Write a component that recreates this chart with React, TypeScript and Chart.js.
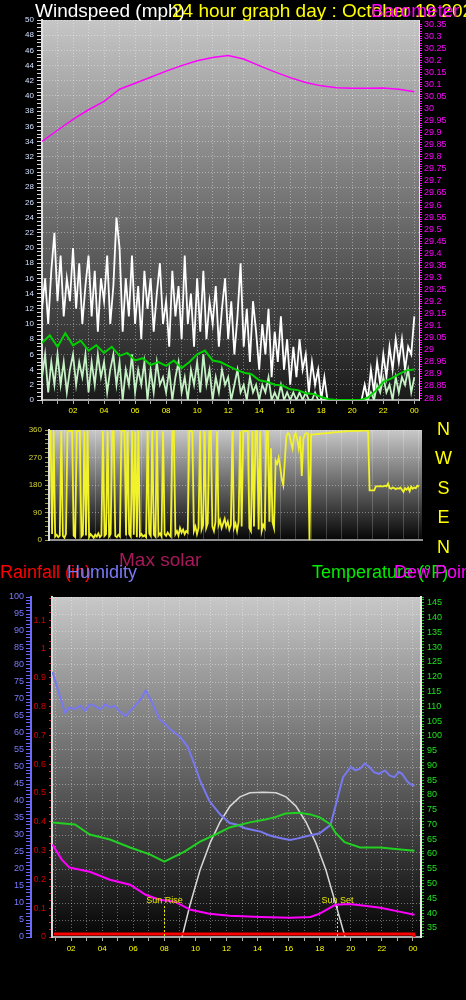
import React, { useEffect, useRef } from "react";
import { Chart, registerables } from "chart.js";
Chart.register(...registerables);

const FONT = "'Liberation Sans', Arial, sans-serif";

// ---------- top chart: wind (mph) and barometer (inHg) ----------
const WIND_STEP = 0.2; // hours between wind samples
const gustValues = [
  12, 16, 10, 17, 22,
  13, 19, 11, 16, 13,
  20, 12, 18, 10, 15,
  19, 11, 17, 9, 16,
  13, 19, 10, 15, 24,
  20, 9, 16, 11, 19,
  10, 15, 8, 17, 12,
  16, 9, 14, 18, 10,
  13, 7, 17, 11, 15,
  8, 19, 10, 14, 7,
  16, 9, 17, 8, 13,
  10, 15, 7, 12, 16,
  8, 13, 6, 11, 18,
  7, 12, 5, 13, 9,
  4, 10, 6, 12, 3,
  9, 5, 11, 4, 8,
  2, 7, 3, 8, 4,
  6, 1, 5, 2, 4,
  0, 3, 0, 0, 0,
  0, 0, 0, 0, 0,
  0, 0, 0, 0, 2,
  0, 4, 1, 5, 2,
  6, 3, 7, 4, 8,
  5, 8, 4, 7, 6,
  11,
];
const speedValues = [
  3, 6, 1, 5, 2,
  6, 2, 5, 1, 4,
  6, 2, 5, 3, 6,
  1, 5, 2, 6, 3,
  5, 1, 4, 6, 2,
  5, 0, 4, 2, 6,
  1, 4, 2, 5, 0,
  4, 1, 5, 2, 3,
  1, 4, 0, 3, 5,
  1, 3, 0, 4, 2,
  5, 1, 6, 2, 4,
  0, 3, 1, 4, 2,
  3, 0, 2, 4, 1,
  2, 0, 3, 1, 2,
  0, 2, 1, 3, 0,
  1, 0, 2, 0, 1,
  0, 1, 0, 1, 0,
  1, 0, 0, 1, 0,
  0, 0, 0, 0, 0,
  0, 0, 0, 0, 0,
  0, 0, 0, 0, 0,
  0, 1, 0, 2, 1,
  3, 1, 2, 0, 3,
  1, 3, 2, 4, 1,
  3,
];
const AVG_STEP = 0.5;
const avgValues = [
  7.5, 8.5, 7, 8.8, 7.2, 7.8, 6.5, 7.2, 6.2, 7, 5.8, 6.2, 5.2, 5.5, 4.6, 5,
  4.5, 5.2, 4.2, 5, 6, 6.5, 5.2, 5, 4.5, 4, 3.6, 3.4, 2.6, 2.4, 2, 1.9, 1.4,
  1.3, 0.9, 0.8, 0.4, 0.1, 0, 0, 0, 0, 0.3, 1.2, 2.4, 2.8, 3.4, 3.9, 4,
];
const BARO_STEP = 1;
const baroValues = [
  29.864, 29.91, 29.955, 29.995, 30.03, 30.08, 30.105, 30.13, 30.155, 30.178,
  30.198, 30.212, 30.22, 30.205, 30.178, 30.152, 30.128, 30.108, 30.094,
  30.086, 30.084, 30.084, 30.085, 30.08, 30.07,
];

// ---------- wind direction chart ----------
const DIR_STEP = 0.1;
const dirValues = [
  355, 358, 20, 356, 12, 18, 10, 15, 357, 14,
  8, 20, 355, 358, 357, 359, 15, 10, 356, 358,
  357, 12, 18, 356, 15, 358, 10, 20, 14, 8,
  18, 12, 22, 10, 16, 357, 14, 20, 356, 12,
  20, 356, 355, 14, 10, 18, 12, 358, 359, 357,
  15, 356, 20, 12, 357, 18, 355, 10, 358, 14,
  20, 12, 16, 10, 356, 22, 14, 357, 18, 12,
  358, 15, 22, 12, 356, 20, 14, 25, 18, 12,
  355, 357, 20, 30, 15, 40, 25, 35, 20, 30,
  25, 356, 358, 355, 30, 45, 20, 40, 357, 35,
  50, 356, 40, 55, 355, 357, 45, 30, 60, 356,
  50, 65, 40, 55, 70, 45, 60, 35, 50, 356,
  40, 55, 30, 60, 356, 45, 357, 355, 358, 356,
  40, 30, 357, 45, 355, 358, 35, 356, 30, 50,
  40, 356, 355, 60, 300, 60, 40, 260, 250, 270,
  240, 200, 180, 260, 340, 350, 345, 320, 300, 340,
  350, 330, 300, 340, 210, 330, 345, 350, 348, 0,
  345, 345, 346, 346, 347, 347, 348, 348, 349, 349,
  350, 350, 351, 351, 352, 352, 353, 353, 354, 354,
  355, 355, 355, 356, 356, 356, 356, 357, 357, 357,
  357, 357, 357, 358, 358, 358, 358, 358, 163, 163,
  163, 163, 176, 176, 176, 177, 176, 176, 178, 176,
  185, 170, 168, 172, 170, 167, 170, 168, 172, 165,
  158, 170, 165, 172, 160, 175, 168, 172, 170, 178,
  175,
];
const dirTickLabels = [0, 90, 180, 270, 360];
const compassLabels = ["N", "W", "S", "E", "N"];

// ---------- bottom chart ----------
const humHours = [0.8, 1.2, 1.6, 1.9, 2.2, 2.6, 2.9, 3.2, 3.5, 3.9, 4.2, 4.5, 4.8, 5.2, 5.5, 5.8, 6.1, 6.5, 6.8, 7.1, 7.4, 7.7, 8.1, 8.4, 8.7, 9.0, 9.5, 10.0, 10.3, 10.9, 11.6, 12.2, 12.7, 13.2, 13.7, 14.2, 14.7, 15.1, 15.6, 16.1, 16.6, 17.0, 17.5, 18.0, 18.7, 19.1, 19.5, 20.0, 20.3, 20.6, 20.9, 21.2, 21.5, 21.8, 22.2, 22.5, 22.8, 23.1, 23.3, 23.6, 23.8, 24.1];
const humValues = [78, 72, 66, 67.5, 67, 68, 66.5, 68.5, 68, 67, 68.5, 67.5, 68, 66, 65, 66.5, 68, 70, 72.5, 70, 67, 64, 62.5, 61, 60, 59, 56, 50, 46, 40, 36, 33.5, 33, 32, 31.5, 31, 30, 29.5, 29, 28.5, 29, 29.5, 30, 30.5, 33, 40, 47, 50, 49, 49.5, 51, 50, 48.5, 48, 49, 47.5, 47, 48.5, 48, 46, 45, 44.5];
const tempHours = [0.8, 2.25, 3.2, 4.5, 5.8, 7.1, 8.0, 9.3, 10.3, 11.3, 12.2, 13.5, 14.5, 15.1, 15.8, 16.7, 17.4, 18.0, 18.7, 19.0, 19.6, 20.6, 21.9, 23.2, 24.1];
const tempValues = [70.7, 70, 66.6, 64.9, 62.2, 59.8, 57.4, 60.8, 64.2, 66.6, 69, 70.7, 71.7, 72.4, 73.7, 74, 73.4, 72.4, 70, 67.3, 64, 62.2, 62.2, 61.5, 61.1];
const dewHours = [0.8, 1.4, 1.9, 3.2, 4.5, 5.8, 6.8, 7.7, 8.7, 9.7, 10.9, 12.2, 14.2, 16.1, 17.4, 18.0, 19.0, 19.9, 20.9, 21.9, 23.2, 24.1];
const dewValues = [63.2, 58.1, 55.4, 54, 51.3, 49.6, 46.2, 44.5, 43.8, 41.1, 39.8, 39.1, 38.7, 38.4, 38.7, 39.8, 42.8, 43.1, 42.5, 41.8, 40.4, 39.4];
const solarHours = [9.14, 9.65, 10.3, 10.94, 11.58, 12.23, 12.87, 13.51, 14.35, 15.19, 15.83, 16.47, 17.12, 17.76, 18.4, 19.05, 19.63];
const solarValues = [0, 94, 197, 276, 338, 385, 412, 424, 426, 424, 412, 385, 338, 276, 197, 94, 0];
const rainHours = [0.9, 24.05, 24.1];
const rainValues = [0.01, 0.01, 0];
const sunRiseHour = 8.0;
const sunSetHour = 19.1;

const hourTickLabels = ["02", "04", "06", "08", "10", "12", "14", "16", "18", "20", "22", "00"];

// ---------- helpers ----------
const stepPts = (vals: number[], step: number) => vals.map((v, i) => ({ x: Math.round(i * step * 100) / 100, y: v }));
const pairPts = (hs: number[], vs: number[]) => hs.map((h, i) => ({ x: h, y: vs[i] }));
const hourLabel = (v: number) => {
  const h = Math.round(v);
  return Math.abs(v - h) < 1e-6 && h % 2 === 0 && h > 0 ? hourTickLabels[h / 2 - 1] : "";
};
const range = (a: number, b: number, step: number) => {
  const out: number[] = [];
  const n = Math.round((b - a) / step);
  for (let i = 0; i <= n; i++) out.push(Math.round((a + i * step) * 1000) / 1000);
  return out;
};
const GRID = "rgba(255,255,255,0.38)";

const bgPlugin = (top: string, bottom: string) => ({
  id: "bg",
  beforeDraw(chart: any) {
    const { ctx, chartArea: a } = chart;
    const g = ctx.createLinearGradient(0, a.top, 0, a.bottom);
    g.addColorStop(0, top);
    g.addColorStop(1, bottom);
    ctx.save();
    ctx.fillStyle = g;
    ctx.fillRect(a.left, a.top, a.right - a.left, a.bottom - a.top);
    ctx.restore();
  },
});

const sunPlugin = {
  id: "sun",
  afterDatasetsDraw(chart: any) {
    const { ctx, chartArea: a, scales } = chart;
    const items: [number, string][] = [
      [sunRiseHour, "Sun Rise"],
      [sunSetHour, "Sun Set"],
    ];
    items.forEach(([h, t]) => {
      const px = Math.round(scales.x.getPixelForValue(h)) + 0.5;
      ctx.save();
      ctx.strokeStyle = "#e8e800";
      ctx.lineWidth = 1;
      ctx.setLineDash([2, 2]);
      ctx.beginPath();
      ctx.moveTo(px, a.bottom - 31);
      ctx.lineTo(px, a.bottom);
      ctx.stroke();
      ctx.setLineDash([]);
      ctx.fillStyle = "#e8e800";
      ctx.font = "9px " + FONT;
      ctx.textAlign = "center";
      ctx.textBaseline = "alphabetic";
      ctx.fillText(t, px, a.bottom - 34);
      ctx.restore();
    });
  },
};

const baseOpts = (padding: any) => ({
  responsive: false,
  animation: false,
  events: [],
  layout: { padding },
  plugins: { legend: { display: false }, tooltip: { enabled: false } },
  elements: { line: { tension: 0 }, point: { radius: 0 } },
});

const line = (data: any[], color: string, width: number, axis: string, order: number) => ({
  data,
  borderColor: color,
  backgroundColor: color,
  borderWidth: width,
  pointRadius: 0,
  yAxisID: axis,
  order,
  fill: false,
});

const Label = ({ text, left, baseline, size, color, center }: any) => (
  <div
    style={{
      position: "absolute",
      left,
      top: baseline - size * 0.8465,
      fontSize: size,
      lineHeight: size + "px",
      height: size,
      fontFamily: FONT,
      color,
      whiteSpace: "nowrap",
      transform: center ? "translateX(-50%)" : undefined,
    }}
  >
    {text}
  </div>
);

export default function App() {
  const topRef = useRef<HTMLCanvasElement>(null);
  const dirRef = useRef<HTMLCanvasElement>(null);
  const botRef = useRef<HTMLCanvasElement>(null);

  useEffect(() => {
    const charts: Chart[] = [];

    // ---- top chart ----
    charts.push(
      new Chart(topRef.current as HTMLCanvasElement, {
        type: "line",
        data: {
          datasets: [
            line(stepPts(avgValues, AVG_STEP), "#00d000", 2, "y", 0),
            line(stepPts(speedValues, WIND_STEP), "#c4f2c4", 1.8, "y", 1),
            line(stepPts(gustValues, WIND_STEP), "#ffffff", 1.8, "y", 2),
            line(stepPts(baroValues, BARO_STEP), "#ff00ff", 1.5, "yb", 3),
          ],
        },
        plugins: [bgPlugin("#c6c6c6", "#1a1a1a")],
        options: {
          ...baseOpts({ top: 20, left: 0, right: 0, bottom: 0 }),
          scales: {
            x: {
              type: "linear",
              min: 0,
              max: 24.3,
              afterFit: (s: any) => { s.height = 20; },
              afterBuildTicks: (s: any) => { s.ticks = range(0, 24, 1).map((v) => ({ value: v })); },
              ticks: { callback: (v: any) => hourLabel(Number(v)), color: "#ffff00", font: { size: 8, family: FONT }, maxRotation: 0, autoSkip: false, padding: 2 },
              grid: { color: GRID, tickLength: 4, tickColor: "#b0b0b0" },
              border: { color: "#a8a8a8", width: 2, dash: [1, 2] },
            },
            y: {
              position: "left",
              min: 0,
              max: 50,
              afterFit: (s: any) => { s.width = 42; },
              afterBuildTicks: (s: any) => { s.ticks = range(0, 50, 0.5).map((v) => ({ value: v })); },
              ticks: { callback: (v: any) => (Number(v) % 2 === 0 ? String(v) : ""), color: "#d0e0ff", font: { size: 8, family: FONT }, autoSkip: false, padding: 3 },
              grid: { color: (c: any) => (c.tick && c.tick.value % 2 === 0 ? GRID : "transparent"), tickLength: 5, tickColor: "#d8d8d8" },
              border: { color: "#e0e0e0", width: 2, dash: [1, 2] },
            },
            yb: {
              position: "right",
              min: 28.792,
              max: 30.367,
              afterFit: (s: any) => { s.width = 47; },
              afterBuildTicks: (s: any) => { s.ticks = range(28.8, 30.35, 0.01).map((v) => ({ value: v })); },
              ticks: {
                callback: (v: any) => (Math.round(Number(v) * 100) % 5 === 0 ? String(parseFloat(Number(v).toFixed(2))) : ""),
                color: "#ff00ff",
                font: { size: 9, family: FONT },
                autoSkip: false,
                padding: 2,
              },
              grid: { drawOnChartArea: false, tickLength: 3, tickColor: "#ff00ff" },
              border: { color: "#e8e8e8", width: 1 },
            },
          },
        } as any,
      })
    );

    // ---- wind direction chart ----
    charts.push(
      new Chart(dirRef.current as HTMLCanvasElement, {
        type: "line",
        data: {
          datasets: [line(stepPts(dirValues, DIR_STEP), "#f2f22a", 1.8, "y", 0)],
        },
        plugins: [bgPlugin("#c8c8c8", "#050505")],
        options: {
          ...baseOpts({ top: 10, left: 0, right: 44, bottom: 2 }),
          scales: {
            x: {
              type: "linear",
              min: 0,
              max: 24.2,
              afterFit: (s: any) => { s.height = 0; },
              afterBuildTicks: (s: any) => { s.ticks = range(0, 24, 1).map((v) => ({ value: v })); },
              ticks: { display: false },
              grid: { color: "rgba(255,255,255,0.2)", drawTicks: false },
              border: { color: "#909090", width: 2 },
            },
            y: {
              position: "left",
              min: 0,
              max: 360,
              afterFit: (s: any) => { s.width = 49; },
              afterBuildTicks: (s: any) => { s.ticks = range(0, 360, 15).map((v) => ({ value: v })); },
              ticks: { callback: (v: any) => (dirTickLabels.includes(Number(v)) ? String(v) : ""), color: "#d4d43a", font: { size: 8, family: FONT }, autoSkip: false, padding: 3 },
              grid: { color: (c: any) => (c.tick && c.tick.value % 90 === 0 ? GRID : "transparent"), tickLength: 4, tickColor: "#9a9a40" },
              border: { color: "#e0e0e0", width: 2, dash: [1, 2] },
            },
          },
        } as any,
      })
    );

    // ---- bottom chart ----
    charts.push(
      new Chart(botRef.current as HTMLCanvasElement, {
        type: "line",
        data: {
          datasets: [
            line(pairPts(rainHours, rainValues), "#ff0000", 3, "yr", 0),
            line(pairPts(dewHours, dewValues), "#ff00ff", 2, "yt", 1),
            line(pairPts(tempHours, tempValues), "#22d022", 2, "yt", 2),
            line(pairPts(humHours, humValues), "#7878f0", 2, "yh", 3),
            line(pairPts(solarHours, solarValues), "#d8d8d8", 1.5, "ys", 4),
          ],
        },
        plugins: [bgPlugin("#c8c8c8", "#050505"), sunPlugin],
        options: {
          ...baseOpts({ top: 49, left: 0, right: 0, bottom: 0 }),
          scales: {
            x: {
              type: "linear",
              min: 0.77,
              max: 24.52,
              afterFit: (s: any) => { s.height = 63; },
              afterBuildTicks: (s: any) => { s.ticks = range(1, 24, 1).map((v) => ({ value: v })); },
              ticks: { callback: (v: any) => hourLabel(Number(v)), color: "#ffff00", font: { size: 8, family: FONT }, maxRotation: 0, autoSkip: false, padding: 3 },
              grid: { color: GRID, tickLength: 4, tickColor: "#b0b0b0" },
              border: { color: "#a8a8a8", width: 2, dash: [1, 2] },
            },
            yh: {
              position: "left",
              weight: 2,
              min: 0,
              max: 100,
              afterFit: (s: any) => { s.width = 31; },
              afterBuildTicks: (s: any) => { s.ticks = range(0, 100, 1).map((v) => ({ value: v })); },
              ticks: { callback: (v: any) => (Number(v) % 5 === 0 ? String(v) : ""), color: "#7a7aff", font: { size: 9, family: FONT }, autoSkip: false, padding: 2 },
              grid: { color: (c: any) => (c.tick && c.tick.value % 5 === 0 ? GRID : "transparent"), tickLength: 5, tickColor: "#6a6af0" },
              border: { color: "#6a6aff", width: 2, dash: [1, 2] },
            },
            yr: {
              position: "left",
              weight: 1,
              min: 0,
              max: 1.18,
              afterFit: (s: any) => { s.width = 21; },
              afterBuildTicks: (s: any) => { s.ticks = range(0, 1.175, 0.025).map((v) => ({ value: v })); },
              ticks: {
                callback: (v: any) => (Math.round(Number(v) * 1000) % 100 === 0 ? String(Math.round(Number(v) * 10) / 10) : ""),
                color: "#d00000",
                font: { size: 9, family: FONT },
                autoSkip: false,
                padding: 3,
              },
              grid: { drawOnChartArea: false, tickLength: 3, tickColor: "#e02020" },
              border: { color: "#d8d8d8", width: 2 },
            },
            yt: {
              position: "right",
              min: 31.9,
              max: 147,
              afterFit: (s: any) => { s.width = 45; },
              afterBuildTicks: (s: any) => { s.ticks = range(32, 147, 1).map((v) => ({ value: v })); },
              ticks: { callback: (v: any) => (Number(v) % 5 === 0 ? String(v) : ""), color: "#20e020", font: { size: 9, family: FONT }, autoSkip: false, padding: 3 },
              grid: { drawOnChartArea: false, tickLength: 3, tickColor: "#20c020" },
              border: { color: "#e8e8e8", width: 2 },
            },
            ys: { display: false, min: 0, max: 1000 },
          },
        } as any,
      })
    );

    return () => charts.forEach((c) => c.destroy());
  }, []);

  return (
    <div style={{ position: "fixed", left: 0, top: 0, width: 466, height: 1000, background: "#000", overflow: "hidden" }}>
      <canvas ref={topRef} width={466} height={420} style={{ position: "absolute", left: 0, top: 0, width: 466, height: 420 }} />
      <canvas ref={dirRef} width={466} height={128} style={{ position: "absolute", left: 0, top: 420, width: 466, height: 128 }} />
      <canvas ref={botRef} width={466} height={452} style={{ position: "absolute", left: 0, top: 548, width: 466, height: 452 }} />

      <Label text="Windspeed (mph)" left={35} baseline={17} size={19} color="#ffffff" />
      <Label text="24 hour graph day : October 19 2023" left={172} baseline={17} size={19} color="#ffff00" />
      <Label text="Barometer (inHg)" left={371} baseline={17} size={19} color="#ff00ff" />

      {compassLabels.map((t, i) => (
        <Label key={i} text={t} left={443.5} baseline={435 + i * 29.5} size={18} color="#ffff00" center />
      ))}

      <Label text="Max solar" left={119} baseline={566} size={19} color="#a8185a" />
      <Label text="Rainfall (in)" left={0} baseline={578} size={18} color="#ff0000" />
      <Label text="Humidity" left={67} baseline={578} size={18} color="#7a7af8" />
      <Label text="Temperature (°F)" left={312} baseline={578} size={18} color="#00ee00" />
      <Label text="Dew Point" left={394} baseline={578} size={18} color="#ff00ff" />
    </div>
  );
}
